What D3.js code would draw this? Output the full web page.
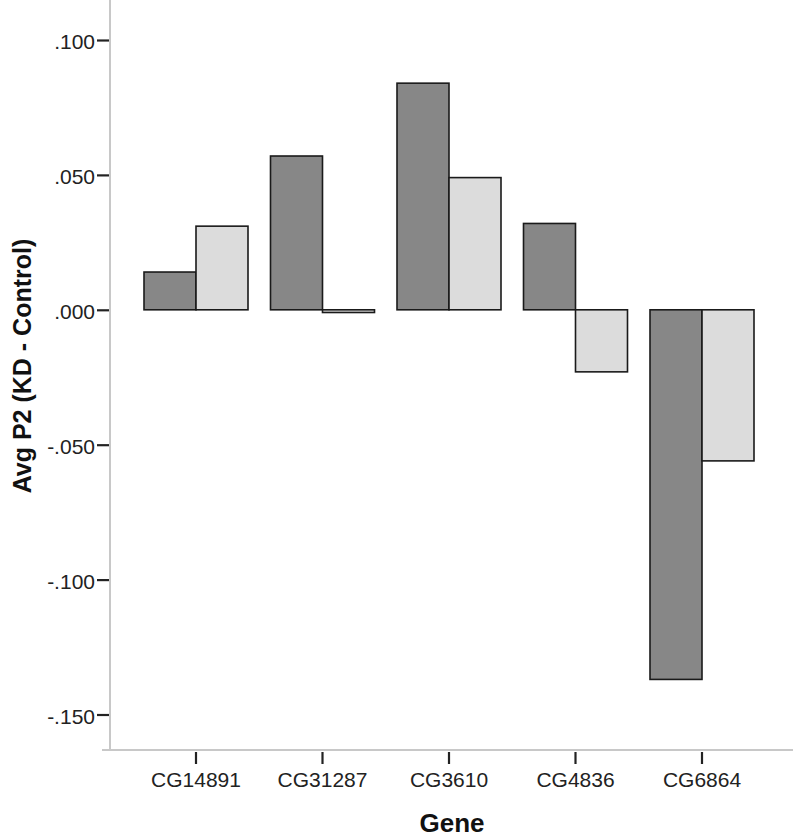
<!DOCTYPE html>
<html>
<head>
<meta charset="utf-8">
<script src="https://cdn.jsdelivr.net/npm/d3@7"></script>
<style>
  html, body { margin: 0; padding: 0; background: #fff; }
  svg { display: block; }
  text { font-family: "Liberation Sans", Arial, sans-serif; }
</style>
</head>
<body>
<svg id="chart" width="793" height="838"></svg>
<script>
const genes = ["CG14891", "CG31287", "CG3610", "CG4836", "CG6864"];
const seriesNames = ["series1", "series2"];
const series1 = [0.014, 0.057, 0.084, 0.032, -0.137];
const series2 = [0.031, -0.001, 0.049, -0.023, -0.056];
const yTicks = [0.1, 0.05, 0, -0.05, -0.1, -0.15];
const seriesColors = ["#878787", "#dcdcdc"];

const svg = d3.select("#chart");

const y = d3.scaleLinear().domain([-0.15, 0.1]).range([714.5, 40]);
const x = d3.scaleBand().domain(genes).range([132.75, 765.25]).paddingInner(0).paddingOuter(0);
const xs = d3.scaleBand().domain(seriesNames).range([-52, 52]);

const fmt = v => d3.format(".3f")(v).replace("\u2212", "-").replace("0.", ".");

// axis lines
svg.append("line").attr("x1", 110).attr("x2", 110).attr("y1", 0).attr("y2", 750)
  .attr("stroke", "#c8c8c8").attr("stroke-width", 2);
svg.append("line").attr("x1", 102).attr("x2", 793).attr("y1", 750).attr("y2", 750)
  .attr("stroke", "#c8c8c8").attr("stroke-width", 2);

// y axis
const yAxis = svg.append("g").attr("transform", "translate(109,0)")
  .call(d3.axisLeft(y).tickValues(yTicks).tickFormat(fmt).tickSize(12).tickPadding(2));
yAxis.select(".domain").remove();
yAxis.selectAll(".tick line").attr("stroke", "#222").attr("stroke-width", 2.2);
yAxis.selectAll(".tick text").attr("fill", "#222").attr("dy", "0.42em").style("font-size", "21px")
  .style("font-family", "'Liberation Sans', Arial, sans-serif");

// x axis
const xAxis = svg.append("g").attr("transform", "translate(0,752)")
  .call(d3.axisBottom(x).tickSize(12).tickPadding(8));
xAxis.select(".domain").remove();
xAxis.selectAll(".tick line").attr("stroke", "#222").attr("stroke-width", 2.2);
xAxis.selectAll(".tick text").attr("fill", "#222").style("font-size", "21px")
  .style("font-family", "'Liberation Sans', Arial, sans-serif");

// bars
const data = genes.map((g, i) => ({gene: g, vals: [series1[i], series2[i]]}));
const groups = svg.append("g").selectAll("g").data(data).join("g")
  .attr("transform", d => `translate(${x(d.gene) + x.bandwidth() / 2},0)`);
groups.selectAll("rect").data(d => d.vals.map((v, k) => ({k, v}))).join("rect")
  .attr("x", d => xs(seriesNames[d.k]))
  .attr("width", xs.bandwidth())
  .attr("y", d => Math.min(y(d.v), y(0)))
  .attr("height", d => Math.max(Math.abs(y(d.v) - y(0)), 1.5))
  .attr("fill", d => seriesColors[d.k])
  .attr("stroke", "#1a1a1a")
  .attr("stroke-width", 1.6);

// axis titles
svg.append("text").attr("x", 452).attr("y", 832).attr("text-anchor", "middle")
  .style("font-size", "26px").style("font-weight", "bold").attr("fill", "#111").text("Gene");
svg.append("text").attr("transform", "translate(31,366) rotate(-90)").attr("text-anchor", "middle")
  .style("font-size", "25px").style("font-weight", "bold").attr("fill", "#111").text("Avg P2 (KD - Control)");
</script>
</body>
</html>
